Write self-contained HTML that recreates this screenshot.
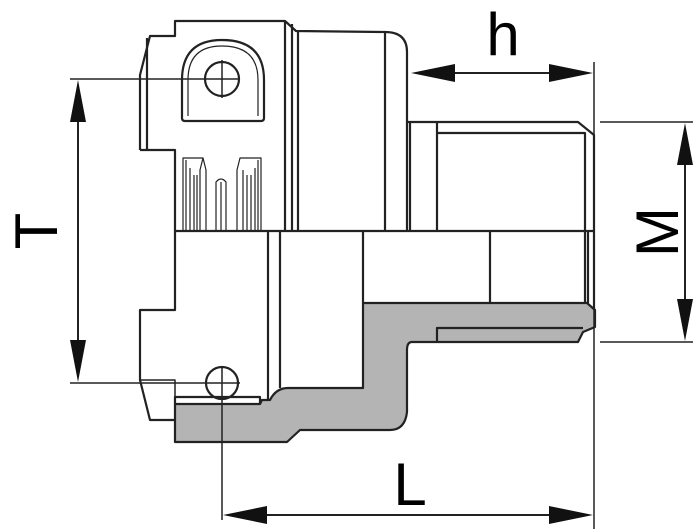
<!DOCTYPE html>
<html><head><meta charset="utf-8"><style>
html,body{margin:0;padding:0;background:#fff;}
svg{display:block}
text{font-family:"Liberation Sans",sans-serif;fill:#000}
</style></head><body>
<svg width="700" height="529" viewBox="0 0 700 529" xmlns="http://www.w3.org/2000/svg">
<g fill="none" stroke="#222" stroke-width="2.2" stroke-linejoin="round">
<path d="M175,404 L260,404 L262,400 L270,400 Q276,388 288,388 L363,388 L363,303 L587,303 L595,310 L595,327 L583,332 L578,342 L412,342 Q407,342 407,350 L407,412 Q405,430 390,430 L300,430 L287,442 L175,442 Z" fill="#b4b4b4"/>
<path d="M437,342 L437,328 L583,328"/>
<path d="M175,404 L175,397 L260,397 L260,404"/>
<path d="M140,150 L140,75 L150,36 L175,36 L175,21 L285,21 L296,31 L385,32 Q407,32 407,52 L407,120"/>
<path d="M140,150 L175,150 L175,231"/>
<path d="M285,21 L285,231 M292,24 L292,231 M298,31 L298,231 M385,32 L385,231 M407,120 L407,231 M147,38 L147,150"/>
<path d="M407,122 L578,122 L594,135 L594,310"/>
<path d="M437,122 L437,231 M437,133 L585,133 L585,303 M410,122 L410,231"/>
<path d="M175,231 L594,231"/>
<path d="M175,231 L175,310 L140,310 L140,380 L150,420 L175,420"/>
<path d="M268,231 L268,400 M280,231 L280,388 M363,231 L363,303 M490,231 L490,303 M588,231 L588,303"/>
<path d="M140,380 L175,380 L175,397" stroke-width="1.5"/>
<path d="M182,118 L182,80 Q182,40 222,40 Q264,40 264,80 L264,118 Q264,121 261,121 L185,121 Q182,121 182,118 Z"/>
<path d="M188,116 L188,80 Q188,46 222,46 Q258,46 258,80 L258,116" stroke-width="1.2"/>
<circle cx="222" cy="79" r="17"/>
<circle cx="222" cy="383" r="16"/>
<g stroke-width="1.2">
<path d="M183,231 L183,158 L203,158 L200,170 L200,231 M186,231 L186,160 M190,231 L190,168 M194,231 L194,175 M197,231 L197,175 M203,158 L206,170 L206,231"/>
<path d="M216,231 L216,182 Q221,176 226,182 L226,231 M221,231 L221,182"/>
<path d="M237,231 L237,170 L240,158 L261,158 L261,231 M243,231 L243,170 M247,231 L247,175 M251,231 L251,175 M255,231 L255,168 M258,231 L258,160"/>
</g>
</g>
<g stroke="#222" stroke-width="1.5" fill="none">
<path d="M70,79 L240,79 M70,383 L240,383"/>
<path d="M222,60 L222,98"/>
<path d="M222,368 L222,520"/>
<path d="M594,62 L594,529"/>
<path d="M600,122 L693,122 M600,342 L693,342"/>
<path d="M78,90 L78,372 M420,73 L585,73 M685,130 L685,335 M232,515 L585,515" stroke-width="2"/>
</g>
<g fill="#111">
<path d="M78,80 L70,122 L86,122 Z M78,382 L70,340 L86,340 Z"/>
<path d="M411,73 L455,64 L455,82 Z M593,73 L549,64 L549,82 Z"/>
<path d="M685,123 L677,165 L693,165 Z M685,341 L677,299 L693,299 Z"/>
<path d="M223,515 L267,506 L267,524 Z M593,515 L549,506 L549,524 Z"/>
</g>
<text x="503" y="55" font-size="60" text-anchor="middle">h</text>
<text x="410" y="505" font-size="60" text-anchor="middle">L</text>
<text transform="translate(57,231) rotate(-90)" font-size="60" text-anchor="middle">T</text>
<text transform="translate(678,232) rotate(-90)" font-size="60" text-anchor="middle">M</text>
</svg>
</body></html>
